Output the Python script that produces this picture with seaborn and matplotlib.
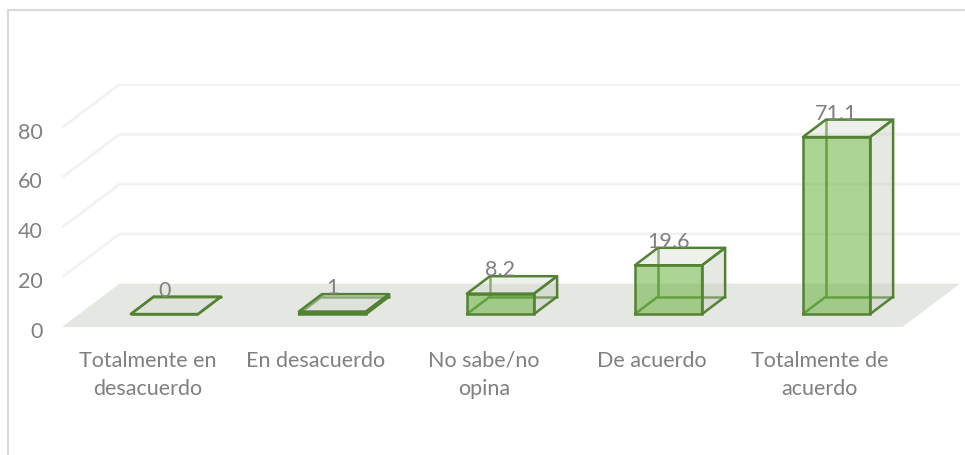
import matplotlib
matplotlib.use('Agg')
import matplotlib.pyplot as plt
import numpy as np
import pandas as pd
import seaborn as sns
from matplotlib.lines import Line2D
from matplotlib.patches import Polygon
from matplotlib.transforms import ScaledTranslation

categories = ['Totalmente en\ndesacuerdo', 'En desacuerdo', 'No sabe/no\nopina',
              'De acuerdo', 'Totalmente de\nacuerdo']
values = [0, 1, 8.2, 19.6, 71.1]
value_labels = ['0', '1', '8.2', '19.6', '71.1']
y_ticks = [0, 20, 40, 60, 80]

EDGE = '#548235'
GREY = '#808080'
FONT = 15.5

sns.set_style('white')
plt.rcParams['font.family'] = ['Lato', 'DejaVu Sans']

W, H = 965, 455
fig = plt.figure(figsize=(W / 100, H / 100), dpi=100)
ax = fig.add_axes([62 / W, 1 - 327 / H, (960 - 62) / W, (327 - 84) / H])

df = pd.DataFrame({'cat': categories, 'val': values})
lift = 5.2          # bars stand a bit behind the front edge of the floor
sns.barplot(data=df, x='cat', y='val', ax=ax, width=0.4, saturation=1, color='#70ad47',
            bottom=lift, edgecolor=EDGE, linewidth=1.8, zorder=5)

ax.set_xlim(-0.61, 4.735)
ax.set_ylim(0, 97.6)
ax.set_xlabel('')
ax.set_ylabel('')
sns.despine(ax=ax, left=True, bottom=True)

# floor and walls
x0, x1 = ax.get_xlim()
wall_dx, wall_dy = 57.5 / 168, 17.4
floor_right = x1 - wall_dx
ax.add_patch(Polygon([(x0, 0), (floor_right, 0), (x1, wall_dy), (x0 + wall_dx, wall_dy)],
                     facecolor='#e5e7e2', edgecolor='none', zorder=1))
for v in y_ticks[1:]:
    ax.plot([x0, x0 + wall_dx, x1], [v, v + wall_dy, v + wall_dy], color='#f2f2f2', lw=2,
            zorder=0, solid_capstyle='butt')

# depth of each bar
dx, dy = 23 / 168, 7.0
for bar, v, lab in zip(ax.patches[:len(values)], values, value_labels):
    xa = bar.get_x()
    xb = xa + bar.get_width()
    ya = bar.get_y()
    yb = ya + bar.get_height()
    bar.set_facecolor((0.44, 0.71, 0.28, 0.58))
    # back, floor and left edges show through the front
    ax.plot([xa + dx, xa + dx, xb + dx], [yb + dy, ya + dy, ya + dy], color=EDGE, lw=1.8, zorder=3)
    ax.plot([xa, xa + dx], [ya, ya + dy], color=EDGE, lw=1.8, zorder=3)
    ax.add_patch(Polygon([(xa, yb), (xb, yb), (xb + dx, yb + dy), (xa + dx, yb + dy)],
                         facecolor=(0.85, 0.87, 0.83, 0.45), edgecolor=EDGE, lw=1.8,
                         joinstyle='round', zorder=4))
    ax.add_patch(Polygon([(xb, ya), (xb + dx, ya + dy), (xb + dx, yb + dy), (xb, yb)],
                         facecolor=(0.76, 0.79, 0.73, 0.4), edgecolor=EDGE, lw=1.8,
                         joinstyle='round', zorder=4))
    ax.text((xa + xb) / 2, yb + dy + 2.4, lab, ha='center', va='center', fontsize=FONT,
            color=GREY, zorder=6)

ax.set_yticks(y_ticks)
ax.set_xticks(np.arange(len(categories)) - 0.1, categories, linespacing=1.5)
ax.tick_params(axis='both', length=0, labelsize=FONT, labelcolor=GREY)
ax.tick_params(axis='x', pad=17)
ax.tick_params(axis='y', pad=14)
for t in ax.get_yticklabels():
    t.set_transform(t.get_transform() + ScaledTranslation(0, -2 / 72, fig.dpi_scale_trans))

# chart border, cut off by the image
fig.add_artist(Line2D([8 / W, 8 / W], [0, 1 - 10 / H], color='#d9d9d9', lw=1.5))
fig.add_artist(Line2D([8 / W, 964 / W], [1 - 10 / H, 1 - 10 / H], color='#d9d9d9', lw=1.5))

fig.savefig('out.png', dpi=100)
plt.close()
